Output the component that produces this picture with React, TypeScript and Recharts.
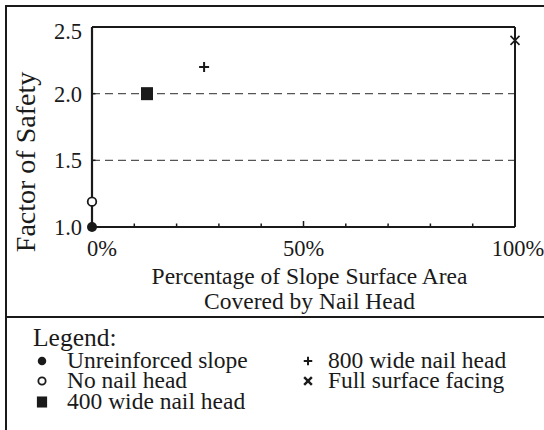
import React from 'react';
import { ScatterChart, Scatter, XAxis, YAxis, CartesianGrid, ReferenceLine, Label } from 'recharts';

// ---- data ----
const seriesNames = [
  'Unreinforced slope',
  'No nail head',
  '400 wide nail head',
  '800 wide nail head',
  'Full surface facing',
];
const coveragePct = [0, 0, 13, 26.5, 100];
const factorOfSafety = [1.0, 1.19, 2.0, 2.2, 2.4];
const xTicks = [0, 10, 20, 30, 40, 50, 60, 70, 80, 90, 100];
const xTickLabels: Record<number, string> = { 0: '0%', 50: '50%', 100: '100%' };
const yTicks = [1.0, 1.5, 2.0, 2.5];
const xTitleLines = ['Percentage of Slope Surface Area', 'Covered by Nail Head'];
const yTitle = 'Factor of Safety';
const legendTitle = 'Legend:';

const FONT = "'Liberation Serif', 'Times New Roman', serif";
const INK = '#1a1a1a';

const txt = (size: number): React.CSSProperties => ({ fontFamily: FONT, fontSize: size, fill: INK });

function Marker({ kind, cx, cy, small }: { kind: number; cx: number; cy: number; small?: boolean }) {
  const s = small ? 0.85 : 1;
  switch (kind) {
    case 0:
      return <circle cx={cx} cy={cy} r={5 * s} fill={INK} />;
    case 1:
      return <circle cx={cx} cy={cy} r={4.3 * s} fill="#fff" stroke={INK} strokeWidth={1.8} />;
    case 2:
      return <rect x={cx - 6 * s} y={cy - 6.5 * s} width={12 * s} height={13 * s} fill={INK} />;
    case 3: {
      const h = 5 * s;
      return (
        <g stroke={INK} strokeWidth={2}>
          <line x1={cx - h} y1={cy} x2={cx + h} y2={cy} />
          <line x1={cx} y1={cy - h} x2={cx} y2={cy + h} />
        </g>
      );
    }
    default: {
      const h = 4.5 * s;
      return (
        <g stroke={INK} strokeWidth={small ? 2.4 : 1.6}>
          <line x1={cx - h} y1={cy - h} x2={cx + h} y2={cy + h} />
          <line x1={cx - h} y1={cy + h} x2={cx + h} y2={cy - h} />
        </g>
      );
    }
  }
}

const XTick = (props: any) => {
  const { x, y, payload } = props;
  const v = payload.value as number;
  const major = v % 50 === 0;
  const label = xTickLabels[v];
  const dx = v === 0 ? 10 : v === 100 ? 3 : 0;
  return (
    <g>
      <line x1={x} y1={y} x2={x} y2={y - (major ? 6 : 3.5)} stroke={INK} strokeWidth={1.5} />
      {label && (
        <text x={x + dx} y={y + 29} textAnchor="middle" style={txt(22.5)}>
          {label}
        </text>
      )}
    </g>
  );
};

const YTick = (props: any) => {
  const { x, y, payload } = props;
  const v = payload.value as number;
  const dy = v === 2.5 ? 4 : 0;
  return (
    <g>
      <line x1={x} y1={y} x2={x + 3.5} y2={y} stroke={INK} strokeWidth={1.5} />
      <text x={x - 10} y={y + dy + 8} textAnchor="end" style={txt(22.5)}>
        {v.toFixed(1)}
      </text>
    </g>
  );
};

const XTitle = (props: any) => {
  const vb = props.viewBox || {};
  const cx = vb.x + vb.width / 2 + 6;
  const top = vb.y;
  return (
    <text textAnchor="middle" style={txt(23.5)}>
      <tspan x={cx} y={top + 57}>{xTitleLines[0]}</tspan>
      <tspan x={cx} y={top + 82}>{xTitleLines[1]}</tspan>
    </text>
  );
};

const YTitle = (props: any) => {
  const vb = props.viewBox || {};
  const cx = 25;
  const cy = vb.y + vb.height / 2 + 35;
  return (
    <text
      x={cx}
      y={cy}
      transform={`rotate(-90, ${cx}, ${cy})`}
      textAnchor="middle"
      dominantBaseline="central"
      style={txt(28)}
    >
      {yTitle}
    </text>
  );
};

const legendLeft = [0, 1, 2];
const legendRight = [3, 4];
const rowBaselines = [368, 388, 409];

function LegendBox() {
  return (
    <svg width={544} height={112} style={{ position: 'absolute', left: 0, top: 318 }}>
      <text x={33} y={346 - 318} style={txt(25.5)}>
        {legendTitle}
      </text>
      {legendLeft.map((k, i) => (
        <g key={k}>
          <Marker kind={k} cx={42} cy={rowBaselines[i] - 318 - 7} small />
          <text x={67} y={rowBaselines[i] - 318} style={txt(23.5)}>
            {seriesNames[k]}
          </text>
        </g>
      ))}
      {legendRight.map((k, i) => (
        <g key={k}>
          <Marker kind={k} cx={308} cy={rowBaselines[i] - 318 - 7} small />
          <text x={328} y={rowBaselines[i] - 318} style={txt(23.5)}>
            {seriesNames[k]}
          </text>
        </g>
      ))}
    </svg>
  );
}

export default function App() {
  return (
    <div
      style={{
        position: 'absolute',
        left: 0,
        top: 0,
        width: 544,
        height: 430,
        overflow: 'hidden',
        background: '#fff',
        fontFamily: FONT,
      }}
    >
      <ScatterChart width={544} height={318} margin={{ top: 27, right: 29, bottom: 0, left: 0 }} style={{ fontFamily: FONT }}>
        <CartesianGrid
          vertical={false}
          stroke="#555"
          strokeWidth={1.3}
          strokeDasharray="8 5"
        />
        <XAxis
          type="number"
          dataKey="x"
          domain={[0, 100]}
          ticks={xTicks}
          interval={0}
          height={91}
          tickSize={0}
          tickMargin={0}
          tickLine={false}
          axisLine={{ stroke: INK, strokeWidth: 2.2 }}
          tick={<XTick />}
        >
          <Label content={<XTitle />} position="insideBottom" />
        </XAxis>
        <YAxis
          type="number"
          dataKey="y"
          domain={[1.0, 2.5]}
          ticks={yTicks}
          interval={0}
          width={92}
          tickSize={0}
          tickMargin={0}
          tickLine={false}
          axisLine={{ stroke: INK, strokeWidth: 2.2 }}
          tick={<YTick />}
        >
          <Label content={<YTitle />} position="insideLeft" />
        </YAxis>
        <ReferenceLine y={2.5} stroke={INK} strokeWidth={2} />
        <ReferenceLine x={100} stroke={INK} strokeWidth={2} />
        {seriesNames.map((name, i) => (
          <Scatter
            key={name}
            name={name}
            data={[{ x: coveragePct[i], y: factorOfSafety[i] }]}
            isAnimationActive={false}
            shape={(p: any) => <Marker kind={i} cx={p.cx} cy={p.cy} />}
          />
        ))}
      </ScatterChart>
      <LegendBox />
      <div
        style={{
          position: 'absolute',
          left: 5,
          top: 5,
          width: 600,
          height: 600,
          borderLeft: `2px solid ${INK}`,
          borderTop: `2px solid ${INK}`,
          pointerEvents: 'none',
        }}
      />
      <div
        style={{
          position: 'absolute',
          left: 5,
          top: 315.5,
          width: 600,
          height: 0,
          borderTop: `2.5px solid ${INK}`,
        }}
      />
    </div>
  );
}
